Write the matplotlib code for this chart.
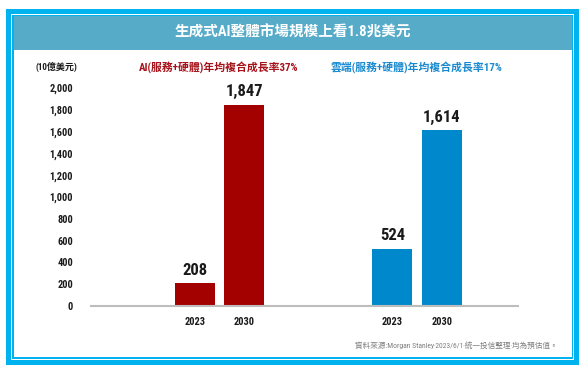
import matplotlib
matplotlib.use("Agg")
import matplotlib.pyplot as plt
from matplotlib import font_manager
from matplotlib.patches import Rectangle
import numpy as np

W, H = 588, 373

title = "生成式AI整體市場規模上看1.8兆美元"
unit_label = "(10億美元)"
years = ["2023", "2030"]
ai_label = "AI(服務+硬體)年均複合成長率37%"
ai_values = [208, 1847]
cloud_label = "雲端(服務+硬體)年均複合成長率17%"
cloud_values = [524, 1614]
yticks = [0, 200, 400, 600, 800, 1000, 1200, 1400, 1600, 1800, 2000]
source = "資料來源:Morgan Stanley‧2023/6/1‧統一投信整理‧均為預估值。"

FRAME = "#00B2EE"
BAND = "#56ABC8"
RED = "#A30000"
BLUE = "#0088CC"


def pick_latin():
    for name in ["Liberation Sans Narrow", "Roboto Condensed", "Liberation Sans"]:
        try:
            font_manager.findfont(name, fallback_to_default=False)
            return name
        except Exception:
            pass
    return "DejaVu Sans"


FAM = [pick_latin(), "Noto Sans CJK TC", "DejaVu Sans"]
plt.rcParams["font.family"] = FAM


def box(x, y, w, h):
    # pixel box (top-left origin) -> figure fraction
    return (x / W, 1 - (y + h) / H), w / W, h / H


def fx(x):
    return x / W


def fy(y):
    return 1 - y / H


fig = plt.figure(figsize=(W / 100, H / 100), dpi=100)
fig.patch.set_facecolor("white")

# frames
for (x, y, w, h), c in [
    ((6, 9, 573, 356), FRAME),
    ((11, 14, 563, 346), "white"),
    ((12, 15, 561, 344), FRAME),
    ((14, 17, 558, 340), "white"),
    ((14, 16, 558, 34), BAND),
]:
    xy, ww, hh = box(x, y, w, h)
    fig.add_artist(Rectangle(xy, ww, hh, transform=fig.transFigure,
                             facecolor=c, edgecolor="none", zorder=0))

fig.text(fx(293), fy(33), title, color="white", fontsize=10.5, fontweight="bold",
         ha="center", va="center")

ax = fig.add_axes([fx(91), fy(306), (518 - 91) / W, (306 - 88) / H])
ax.patch.set_alpha(0)

x_ai = np.array([0, 1])
x_cloud = np.array([4, 5])
bw = 0.81
b1 = ax.bar(x_ai, ai_values, width=bw, color=RED, zorder=2)
b2 = ax.bar(x_cloud, cloud_values, width=bw, color=BLUE, zorder=2)

for bars, vals in [(b1, ai_values), (b2, cloud_values)]:
    for rect, v in zip(bars, vals):
        ax.annotate(f"{v:,}", (rect.get_x() + rect.get_width() / 2, v),
                    xytext=(0, 4), textcoords="offset points", ha="center",
                    va="bottom", fontsize=12, fontweight="bold", color="#1A1A1A",
                    clip_on=False)

ax.set_xlim(-2.1, 6.54)
ax.set_ylim(0, 2000)
ax.set_yticks(yticks)
ax.set_yticklabels([f"{t:,}" for t in yticks])
ax.set_xticks(np.concatenate([x_ai, x_cloud]))
ax.set_xticklabels(years + years)
for s in ["top", "right", "left"]:
    ax.spines[s].set_visible(False)
ax.spines["bottom"].set_color("#BDBDBD")
ax.spines["bottom"].set_linewidth(1.5)
ax.tick_params(axis="y", length=0, pad=13, labelsize=7.5, labelcolor="#1A1A1A")
ax.tick_params(axis="x", length=0, pad=8, labelsize=7.5, labelcolor="#1A1A1A")
for lab in ax.get_xticklabels() + ax.get_yticklabels():
    lab.set_fontweight("bold")

fig.text(fx(56), fy(67), unit_label, fontsize=6.5, fontweight="bold", color="#1A1A1A",
         ha="center", va="center")
fig.text(fx(219), fy(68), ai_label, fontsize=7.8, fontweight="bold", color="#A6121A",
         ha="center", va="center")
fig.text(fx(416), fy(68), cloud_label, fontsize=7.8, fontweight="bold", color="#1A8AD0",
         ha="center", va="center")
fig.text(fx(558), fy(345), source, fontsize=5.5, color="#7F7F7F",
         ha="right", va="center")

fig.savefig("out.png", dpi=100)
